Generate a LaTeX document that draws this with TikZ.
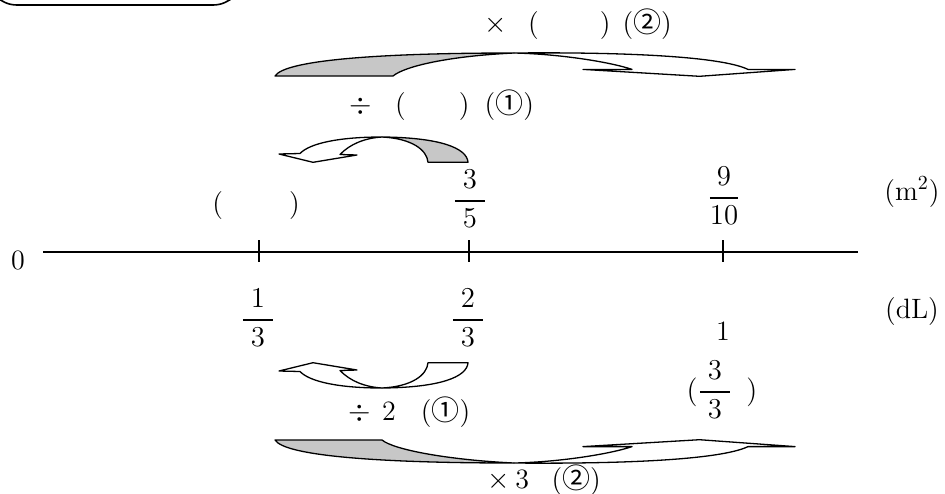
\documentclass[tikz,border=0pt]{standalone}
\usepackage{amsmath}
\usepackage{fontspec}
\newfontfamily\cjk{Noto Sans CJK JP}
\usetikzlibrary{positioning}

% fraction with a slightly longer bar
\newcommand{\padfrac}[2]{\dfrac{\;#1\;}{\;#2\;}}

% long curved arrow (upper one), #1 = style of the back face, #2 = inner end of the tail
\newcommand{\longcurve}[2]{%
  \filldraw[#1] (275,76) -- (#2,76)
      .. controls (#2+12,66) and (450,56) .. (514,53)
      .. controls (380,53) and (285,60) .. (275,76) -- cycle;
  \filldraw[frontface] (514,53)
      .. controls (560,54) and (610,62) .. (632,69.4)
      -- (583,69.4) -- (699.5,76.3) -- (795,69.4) -- (748,69.4)
      .. controls (720,56) and (620,52) .. (514,53) -- cycle;
}

% short curved arrow (upper one), #1 = style of the back face
\newcommand{\shortcurve}[1]{%
  \filldraw[#1] (428,162.3) -- (468,162.3)
      .. controls (467,148) and (440,137.5) .. (382,137)
      .. controls (412,138.5) and (427,150) .. (428,162.3) -- cycle;
  \filldraw[frontface] (382,137)
      .. controls (340,137) and (310,143) .. (300,153.5)
      -- (279,154) -- (313,162.3) -- (357,155) -- (340,154.5)
      .. controls (350,144) and (365,138) .. (382,137) -- cycle;
}

\begin{document}
\begin{tikzpicture}[x=0.5pt, y=-0.5pt, line join=round,
    lbl/.style={font=\fontsize{14}{17}\selectfont, inner sep=0pt},
    backface/.style={draw=black, line width=0.65pt, fill=black!22},
    frontface/.style={draw=black, line width=0.65pt, fill=white}]

\useasboundingbox (0,0) rectangle (945,493);

%---------------------------------------
% Frame, cut off at the top
%---------------------------------------
\begin{scope}
  \clip (0,0) rectangle (945,493);
  \draw[line width=0.8pt, rounded corners=15pt] (-13,-80) rectangle (243,5);
\end{scope}

%---------------------------------------
% Number line
%---------------------------------------
\coordinate (start) at (43,252);
\coordinate (end) at (858,252);
\draw[line width=0.75pt] (start) -- (end);
\foreach \x/\name in {259/tA, 469/tB, 723/tC}
  \draw[line width=0.75pt] (\x,240) coordinate (\name) -- (\x,262);

\node[lbl, anchor=base] (zero) at (18,269) {0};

% area (upper side)
\node[lbl, anchor=base west] (blank) at (212,212) {(\hspace{2.36em})};
\node[lbl] (areaB) at (470,199) {$\padfrac{3}{5}$};
\node[lbl] (areaC) at (724,196) {$\dfrac{9}{10}$};
\node[lbl, anchor=base] (unitA) at (912,200) {(m$^{2}$)};

% paint (lower side)
\node[lbl] (paintA) at (258,318) {$\padfrac{1}{3}$};
\node[lbl] (paintB) at (468,318) {$\padfrac{2}{3}$};
\node[lbl, anchor=base] (paintC) at (723,340) {1};
\node[lbl] (paintD) at (722,390) {$(\padfrac{3}{3}\hspace{0.5em})$};
\node[lbl, anchor=base] (unitB) at (912,318) {(dL)};

%---------------------------------------
% Curved arrows above the line
%---------------------------------------
\longcurve{backface}{393}
\node[lbl, anchor=base west] (opTop) at (484,32)
  {$\times$\hspace{0.76em}(\hspace{2.18em})\hspace{0.43em}({\cjk ②})};

\shortcurve{backface}
\node[lbl, anchor=base west] (opMid) at (349,113)
  {$\div$\hspace{0.83em}(\hspace{1.9em})\hspace{0.54em}({\cjk ①})};

%---------------------------------------
% Curved arrows below the line (mirrored)
%---------------------------------------
\begin{scope}[shift={(0,525)}, yscale=-1]
  \shortcurve{frontface}
\end{scope}
\node[lbl, anchor=base west] (opLow) at (348,420)
  {$\div$\hspace{0.4em}2\hspace{0.9em}({\cjk ①})};

\begin{scope}[shift={(0,516)}, yscale=-1]
  \longcurve{backface}{382}
\end{scope}
\node[lbl, anchor=base west] (opBottom) at (487,488)
  {$\times$\hspace{0.2em}3\hspace{0.8em}({\cjk ②})};

\end{tikzpicture}
\end{document}
